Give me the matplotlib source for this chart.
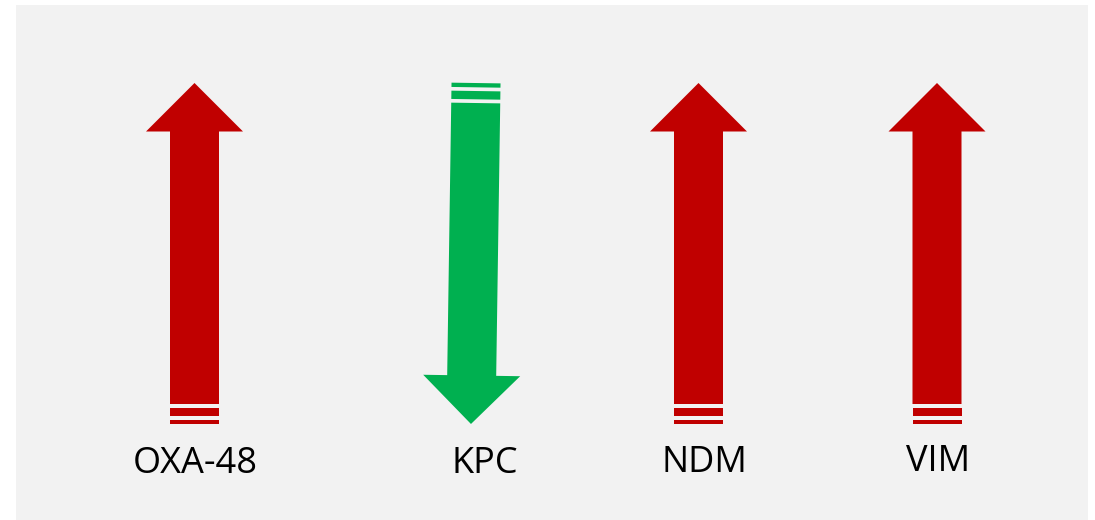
"""Carbapenemase trend diagram: up/down arrows per enzyme family."""
import numpy as np
import matplotlib.pyplot as plt
from matplotlib.patches import Polygon, Rectangle

# data
categories = ["OXA-48", "KPC", "NDM", "VIM"]
trend = [1, -1, 1, 1]          # +1 increasing, -1 decreasing

# layout (pixel space of a 1095x520 canvas)
W, H = 1095, 520
ARROW_X = [194.5, 473.5, 698.5, 937.0]
LABEL_X = [195.5, 484.5, 704.5, 938.0]
LABEL_Y = [473.0, 473.0, 472.0, 471.0]
TILT = [0.0, 0.85, 0.0, 0.0]   # degrees
Y_LOW, Y_HIGH = 424.0, 83.0
SHAFT_HW, HEAD_HW, HEAD_LEN = 24.5, 48.5, 48.5
UP_COLOR, DOWN_COLOR = "#c00000", "#00b050"
PANEL = "#f2f2f2"


def arrow_parts(cx, direction, tilt_deg):
    """Return list of polygons (tail stripes, shaft + head) for one arrow."""
    if direction > 0:
        tail, tip = np.array([cx, Y_LOW]), np.array([cx, Y_HIGH])
    else:
        tail, tip = np.array([cx, Y_HIGH]), np.array([cx, Y_LOW])
    # rotate about mid-point
    a = np.deg2rad(tilt_deg)
    rot = np.array([[np.cos(a), -np.sin(a)], [np.sin(a), np.cos(a)]])
    mid = (tail + tip) / 2
    tail = mid + rot @ (tail - mid)
    tip = mid + rot @ (tip - mid)

    length = np.linalg.norm(tip - tail)
    u = (tip - tail) / length
    n = np.array([-u[1], u[0]])

    def pt(s, w):
        return tail + s * u + w * n

    def band(s0, s1):
        return [pt(s0, -SHAFT_HW), pt(s1, -SHAFT_HW),
                pt(s1, SHAFT_HW), pt(s0, SHAFT_HW)]

    head_base = length - HEAD_LEN
    body = [pt(20, -SHAFT_HW), pt(head_base, -SHAFT_HW),
            pt(head_base, -HEAD_HW), pt(length, 0),
            pt(head_base, HEAD_HW), pt(head_base, SHAFT_HW),
            pt(20, SHAFT_HW)]
    return [band(0, 4.3), band(8, 16.3), body]


fig = plt.figure(figsize=(W / 100, H / 100), dpi=100)
ax = fig.add_axes([0, 0, 1, 1])
ax.set_xlim(0, W)
ax.set_ylim(H, 0)
ax.axis("off")

ax.add_patch(Rectangle((16, 5), 1072, H - 5, facecolor=PANEL,
                       edgecolor="none"))

for i, (name, d) in enumerate(zip(categories, trend)):
    color = UP_COLOR if d > 0 else DOWN_COLOR
    for poly in arrow_parts(ARROW_X[i], d, TILT[i]):
        ax.add_patch(Polygon(poly, closed=True, facecolor=color,
                             edgecolor="none"))
    ax.text(LABEL_X[i], LABEL_Y[i], name, ha="center", va="baseline",
            fontsize=26, family="Open Sans", color="black")

fig.savefig("out.png", dpi=100, facecolor="white")
